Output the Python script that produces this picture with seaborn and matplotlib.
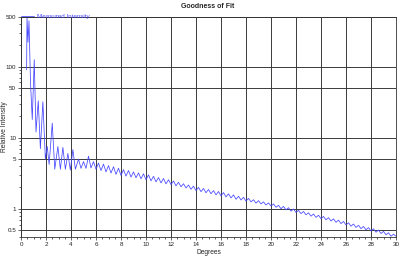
import matplotlib
matplotlib.use("Agg")
import matplotlib.pyplot as plt
import matplotlib.ticker as mticker
import seaborn as sns
import pandas as pd

degrees = [0.45, 0.48, 0.56, 0.64, 0.76, 0.9, 1.06, 1.2, 1.38, 1.55, 1.75, 1.95, 2.1, 2.25,
           2.5, 2.7, 2.95, 3.15, 3.35, 3.55, 3.75, 3.95, 4.15, 4.35, 4.6, 4.8, 5.0, 5.2,
           5.4, 5.6, 5.8, 6.0, 6.2, 6.4, 6.6, 6.8, 7.0, 7.2, 7.4, 7.6, 7.8, 8.0,
           8.2, 8.4, 8.6, 8.8, 9.0, 9.2, 9.4, 9.6, 9.8, 10.0, 10.2, 10.4, 10.6, 10.8,
           11.0, 11.2, 11.4, 11.6, 11.8, 12.0, 12.2, 12.4, 12.6, 12.8, 13.0, 13.2,
           13.4, 13.6, 13.8, 14.0, 14.2, 14.4, 14.6, 14.8, 15.0, 15.2, 15.4, 15.6,
           15.8, 16.0, 16.2, 16.4, 16.6, 16.8, 17.0, 17.2, 17.4, 17.6, 17.8, 18.0,
           18.2, 18.4, 18.6, 18.8, 19.0, 19.2, 19.4, 19.6, 19.8, 20.0, 20.2, 20.4,
           20.6, 20.8, 21.0, 21.2, 21.4, 21.6, 21.8, 22.0, 22.2, 22.4, 22.6, 22.8,
           23.0, 23.2, 23.4, 23.6, 23.8, 24.0, 24.2, 24.4, 24.6, 24.8, 25.0, 25.2,
           25.4, 25.6, 25.8, 26.0, 26.2, 26.4, 26.6, 26.8, 27.0, 27.2, 27.4, 27.6,
           27.8, 28.0, 28.2, 28.4, 28.6, 28.8, 29.0, 29.2, 29.4, 29.6, 29.8, 30.0]

intensity = [90, 500, 220, 440, 60, 18, 125, 12, 33, 7, 32, 5, 7.5, 4.2,
             16, 3.6, 7.5, 3.6, 7.3, 3.6, 6.0, 3.5, 6.8, 3.6, 5.0, 3.7, 4.6, 3.7,
             5.5, 3.75, 4.6, 3.6, 4.4, 3.45, 4.25, 3.3, 4.05, 3.18, 3.9, 3.05, 3.72, 2.95,
             3.55, 2.88, 3.45, 2.79, 3.3, 2.73, 3.2, 2.64, 3.1, 2.56, 3.0, 2.47, 2.86, 2.39,
             2.75, 2.31, 2.67, 2.24, 2.56, 2.19, 2.46, 2.1, 2.36, 2.04, 2.25, 1.96,
             2.16, 1.88, 2.08, 1.8, 2.0, 1.74, 1.93, 1.68, 1.87, 1.63, 1.8, 1.57,
             1.75, 1.52, 1.69, 1.47, 1.62, 1.42, 1.57, 1.36, 1.5, 1.33, 1.45, 1.28,
             1.4, 1.25, 1.34, 1.2, 1.3, 1.17, 1.25, 1.13, 1.21, 1.09, 1.17, 1.05,
             1.12, 1.0, 1.08, 0.965, 1.035, 0.926, 0.993, 0.888, 0.951, 0.855, 0.916, 0.821,
             0.878, 0.787, 0.844, 0.756, 0.811, 0.726, 0.78, 0.699, 0.75, 0.672, 0.721, 0.646,
             0.692, 0.619, 0.663, 0.592, 0.635, 0.569, 0.61, 0.546, 0.585, 0.525, 0.564, 0.506,
             0.543, 0.487, 0.523, 0.468, 0.502, 0.449, 0.481, 0.43, 0.46, 0.411, 0.439, 0.41]

y_ticks = [0.5, 1, 5, 10, 50, 100, 500]
y_tick_labels = ["0.5", "1", "5", "10", "50", "100", "500"]
x_ticks = list(range(0, 31, 2))

sns.set_theme(style="white")
plt.rcParams["font.family"] = ["Liberation Sans", "DejaVu Sans"]

df = pd.DataFrame({"Degrees": degrees, "Intensity": intensity})

fig = plt.figure(figsize=(4.0, 2.56), dpi=100)
ax = fig.add_axes([0.0525, 0.074, 0.9375, 0.86])

sns.lineplot(data=df, x="Degrees", y="Intensity", ax=ax, color="#4646ff",
             linewidth=0.55, estimator=None, sort=False, label="Measured Intensity")

ax.set_yscale("log")
ax.set_xlim(0, 30)
ax.set_ylim(0.4, 500)
ax.set_xticks(x_ticks)
ax.set_xticklabels([str(t) for t in x_ticks])
ax.xaxis.set_minor_locator(mticker.MultipleLocator(0.5))
ax.set_yticks(y_ticks)
ax.set_yticklabels(y_tick_labels)
ax.yaxis.set_minor_locator(mticker.LogLocator(base=10, subs=range(2, 10)))
ax.yaxis.set_minor_formatter(mticker.NullFormatter())

ax.grid(True, which="major", color="#3a3a3a", linewidth=0.7)
ax.tick_params(axis="both", which="major", labelsize=4.5, length=2, width=0.5,
               pad=1.5, colors="#222222", direction="out", bottom=True, left=True)
ax.tick_params(axis="both", which="minor", length=1.2, width=0.5, colors="#222222",
               direction="out", bottom=True, left=True)
for s in ax.spines.values():
    s.set_color("#333333")
    s.set_linewidth(0.6)

ax.set_xlabel("Degrees", fontsize=4.8, labelpad=1.5)
ax.set_ylabel("Relative Intensity", fontsize=4.8)
ax.yaxis.set_label_coords(-0.036, 0.5)
fig.text(0.52, 0.975, "Goodness of Fit", ha="center", va="center",
         fontsize=5, fontweight="bold")

leg = ax.legend(loc="lower left", bbox_to_anchor=(0.0, 0.99), frameon=False,
                fontsize=4.5, handlelength=2.0, handletextpad=0.5, borderpad=0,
                borderaxespad=0)
for t in leg.get_texts():
    t.set_color("#4646ff")

fig.savefig("out.png", dpi=100)
